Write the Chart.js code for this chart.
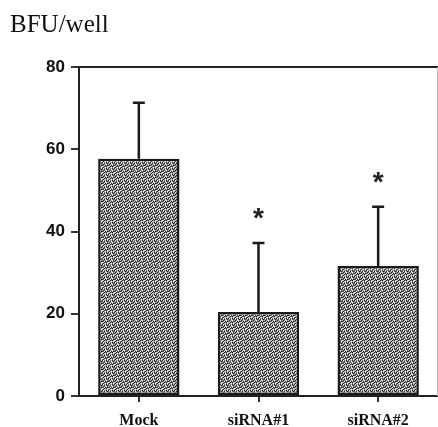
<!DOCTYPE html>
<html>
<head>
<meta charset="utf-8">
<script src="https://cdn.jsdelivr.net/npm/chart.js@4"></script>
<style>
  html, body { margin: 0; padding: 0; background: #fff; }
  #wrap { width: 438px; height: 427px; position: relative; }
</style>
</head>
<body>
<div id="wrap"><canvas id="bfuChart"></canvas></div>
<script>
// Chart data
const categories = ['Mock', 'siRNA#1', 'siRNA#2'];
const bfuMeans = [57.7, 20.4, 31.6];
const bfuErrors = [13.6, 16.8, 14.4];
const significant = [false, true, true];
const yTicks = [0, 20, 40, 60, 80];
const yTitle = 'BFU/well';

// Stippled gray fill, like the scanned print (fixed 6x6 tile)
const tileRows = ['kwglkl', 'glkwgk', 'lkglwg', 'kgwklk', 'wlkgkl', 'gklwgw'];
const tileShades = { k: '#222', g: '#777', l: '#bbb', w: '#f4f4f4' };

function makePattern() {
    const tile = document.createElement('canvas');
    tile.width = 6;
    tile.height = 6;
    const c = tile.getContext('2d');
    tileRows.forEach((row, r) => {
        row.split('').forEach((ch, col) => {
            c.fillStyle = tileShades[ch];
            c.fillRect(col, r, 1, 1);
        });
    });
    return c.createPattern(tile, 'repeat');
}

// Error bars, asterisks, frame and title
const extrasPlugin = {
    id: 'extras',
    afterDatasetsDraw(chart) {
        const ctx = chart.ctx;
        const x = chart.scales.x;
        const y = chart.scales.y;
        const area = chart.chartArea;
        ctx.save();

        // top frame line and faint right edge
        ctx.strokeStyle = '#222';
        ctx.lineWidth = 2;
        ctx.beginPath();
        ctx.moveTo(area.left, area.top);
        ctx.lineTo(area.right, area.top);
        ctx.stroke();
        ctx.strokeStyle = '#bbb';
        ctx.lineWidth = 1;
        ctx.beginPath();
        ctx.moveTo(area.right - 0.5, area.top);
        ctx.lineTo(area.right - 0.5, area.bottom);
        ctx.stroke();

        // upper error bars
        ctx.strokeStyle = '#1a1a1a';
        ctx.lineWidth = 2.5;
        categories.forEach((cat, i) => {
            const cx = x.getPixelForValue(i);
            const top = y.getPixelForValue(bfuMeans[i]);
            const cap = y.getPixelForValue(bfuMeans[i] + bfuErrors[i]);
            ctx.beginPath();
            ctx.moveTo(cx, top);
            ctx.lineTo(cx, cap);
            ctx.moveTo(cx - 6, cap);
            ctx.lineTo(cx + 6, cap);
            ctx.stroke();
            if (significant[i]) {
                ctx.fillStyle = '#222';
                ctx.font = 'bold 28px "Liberation Sans", Arial, sans-serif';
                ctx.textAlign = 'center';
                ctx.textBaseline = 'middle';
                ctx.fillText('*', cx, cap - 24);
            }
        });

        // axis title
        ctx.fillStyle = '#111';
        ctx.font = '25px "Liberation Serif", "Times New Roman", serif';
        ctx.textAlign = 'left';
        ctx.textBaseline = 'alphabetic';
        ctx.fillText(yTitle, 10, 32);
        ctx.restore();
    }
};

function createChart() {
    const ctx = document.getElementById('bfuChart');
    return new Chart(ctx, {
        type: 'bar',
        data: {
            labels: categories,
            datasets: [{
                data: bfuMeans,
                backgroundColor: makePattern(),
                borderColor: '#1a1a1a',
                borderWidth: 2.5,
                borderSkipped: false,
                categoryPercentage: 1,
                barPercentage: 0.68
            }]
        },
        options: {
            responsive: true,
            maintainAspectRatio: false,
            animation: false,
            devicePixelRatio: 1,
            layout: { padding: { top: 67, right: 0, left: 0, bottom: 0 } },
            plugins: {
                legend: { display: false },
                tooltip: { enabled: false }
            },
            scales: {
                x: {
                    grid: {
                        display: true,
                        drawOnChartArea: false,
                        offset: false,
                        tickLength: 6,
                        color: '#333',
                        lineWidth: 2
                    },
                    border: { display: true, color: '#222', width: 2 },
                    ticks: {
                        color: '#111',
                        padding: 9,
                        font: { family: '"Liberation Serif", "Times New Roman", serif', size: 16, weight: 'bold' }
                    },
                    afterFit(scale) { scale.height = 31; }
                },
                y: {
                    min: 0,
                    max: 80,
                    afterBuildTicks(scale) {
                        scale.ticks = yTicks.map(v => ({ value: v }));
                    },
                    grid: {
                        display: true,
                        drawOnChartArea: false,
                        tickLength: 8,
                        color: '#333',
                        lineWidth: 2
                    },
                    border: { display: true, color: '#222', width: 2 },
                    ticks: {
                        color: '#111',
                        padding: 6,
                        font: { family: '"Liberation Sans", Arial, sans-serif', size: 17, weight: 'bold' }
                    },
                    afterFit(scale) { scale.width = 79; }
                }
            }
        },
        plugins: [extrasPlugin]
    });
}

createChart();
</script>
</body>
</html>
